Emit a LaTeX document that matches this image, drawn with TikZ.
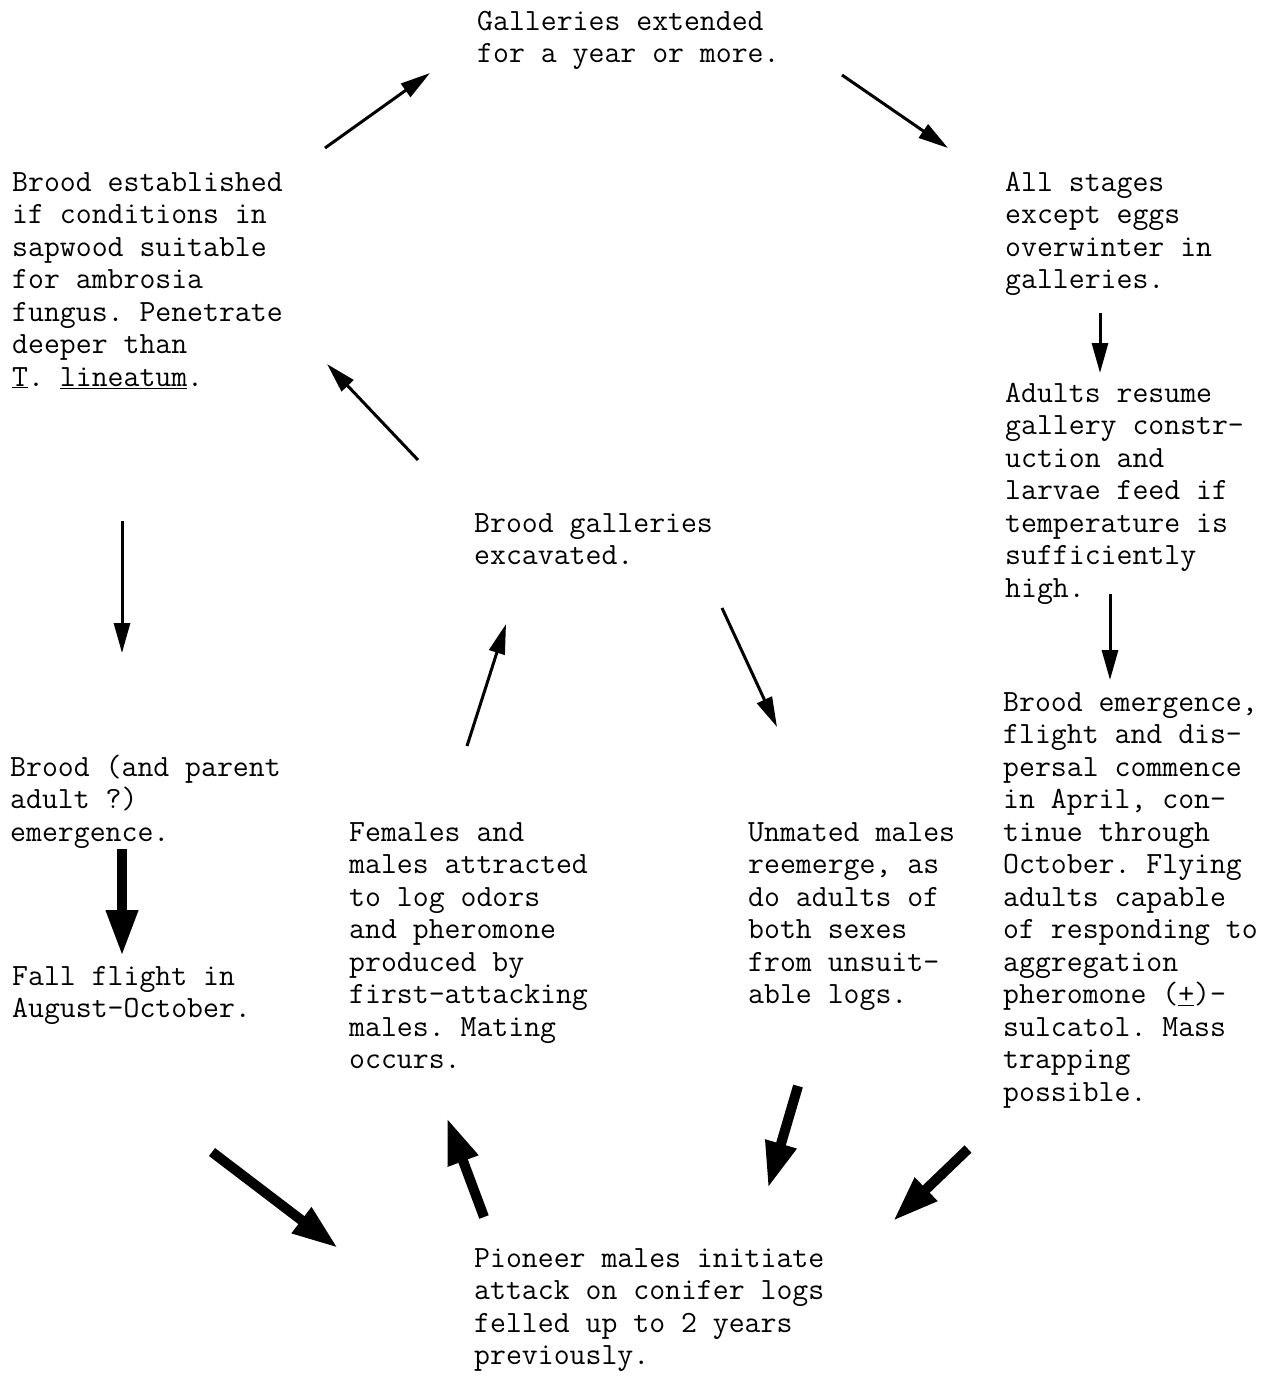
\documentclass[tikz,border=0pt]{standalone}
\usepackage{fontspec}
\usetikzlibrary{arrows.meta}
\newcommand{\fs}{\rule{0pt}{24pt}}
\newcommand{\ul}[1]{\underline{#1}}
\tikzset{
  txt/.style={anchor=north west, inner sep=0pt, align=left,
    font=\ttfamily\frenchspacing\fontsize{30.9}{32.5}\selectfont},
  thin arrow/.style={line width=3pt, -{Triangle[length=30pt,width=16pt]}},
  thick arrow/.style={line width=10pt, -{Triangle[length=46pt,width=30pt]}},
}
\begin{document}
\begin{tikzpicture}[x=1pt,y=-1pt]
\useasboundingbox (0,0) rectangle (1264,1398);
% texts (y = baseline of first line - 24)
\node[txt] (top) at (477,6) {\fs Galleries extended\\for a year or more.};
\node[txt] (est) at (12,167) {\fs Brood established\\if conditions in\\sapwood suitable\\for ambrosia\\fungus. Penetrate\\deeper than\\\ul{T}. \ul{lineatum}.};
\node[txt] (all) at (1005,167) {\fs All stages\\except eggs\\overwinter in\\galleries.};
\node[txt] (res) at (1005,378) {\fs Adults resume\\gallery constr-\\uction and\\larvae feed if\\temperature is\\sufficiently\\high.};
\node[txt] (gal) at (474,508) {\fs Brood galleries\\excavated.};
\node[txt] (emg) at (1003,687) {\fs Brood emergence,\\flight and dis-\\persal commence\\in April, con-\\tinue through\\October. Flying\\adults capable\\of responding to\\aggregation\\pheromone (\ul{+})-\\sulcatol. Mass\\trapping\\possible.};
\node[txt] (par) at (10,752) {\fs Brood (and parent\\adult ?)\\emergence.};
\node[txt] (fem) at (349,817) {\fs Females and\\males attracted\\to log odors\\and pheromone\\produced by\\first-attacking\\males. Mating\\occurs.};
\node[txt] (unm) at (748,817) {\fs Unmated males\\reemerge, as\\do adults of\\both sexes\\from unsuit-\\able logs.};
\node[txt] (fal) at (12,961) {\fs Fall flight in\\August-October.};
\node[txt] (pio) at (474,1243) {\fs Pioneer males initiate\\attack on conifer logs\\felled up to 2 years\\previously.};
% arrow end points
\coordinate (a1s) at (325,148);  \coordinate (a1e) at (430,73);
\coordinate (a2s) at (842,75);   \coordinate (a2e) at (948,148);
\coordinate (a3s) at (1100,313); \coordinate (a3e) at (1100,373);
\coordinate (a4s) at (1110,594); \coordinate (a4e) at (1110,680);
\coordinate (a5s) at (418,460);  \coordinate (a5e) at (327,364);
\coordinate (a6s) at (122,521);  \coordinate (a6e) at (122,653);
\coordinate (a7s) at (467,746);  \coordinate (a7e) at (506,624);
\coordinate (a8s) at (722,608);  \coordinate (a8e) at (777,727);
\coordinate (b1s) at (122,849);  \coordinate (b1e) at (122,956);
\coordinate (b2s) at (212,1152); \coordinate (b2e) at (338,1248);
\coordinate (b3s) at (484,1217); \coordinate (b3e) at (447,1118);
\coordinate (b4s) at (798,1086); \coordinate (b4e) at (768,1188);
\coordinate (b5s) at (968,1149); \coordinate (b5e) at (893,1221);
% thin arrows
\draw[thin arrow] (a1s) -- (a1e);
\draw[thin arrow] (a2s) -- (a2e);
\draw[thin arrow] (a3s) -- (a3e);
\draw[thin arrow] (a4s) -- (a4e);
\draw[thin arrow] (a5s) -- (a5e);
\draw[thin arrow] (a6s) -- (a6e);
\draw[thin arrow] (a7s) -- (a7e);
\draw[thin arrow] (a8s) -- (a8e);
% thick arrows
\draw[thick arrow] (b1s) -- (b1e);
\draw[thick arrow] (b2s) -- (b2e);
\draw[thick arrow] (b3s) -- (b3e);
\draw[thick arrow] (b4s) -- (b4e);
\draw[thick arrow] (b5s) -- (b5e);
\end{tikzpicture}
\end{document}
